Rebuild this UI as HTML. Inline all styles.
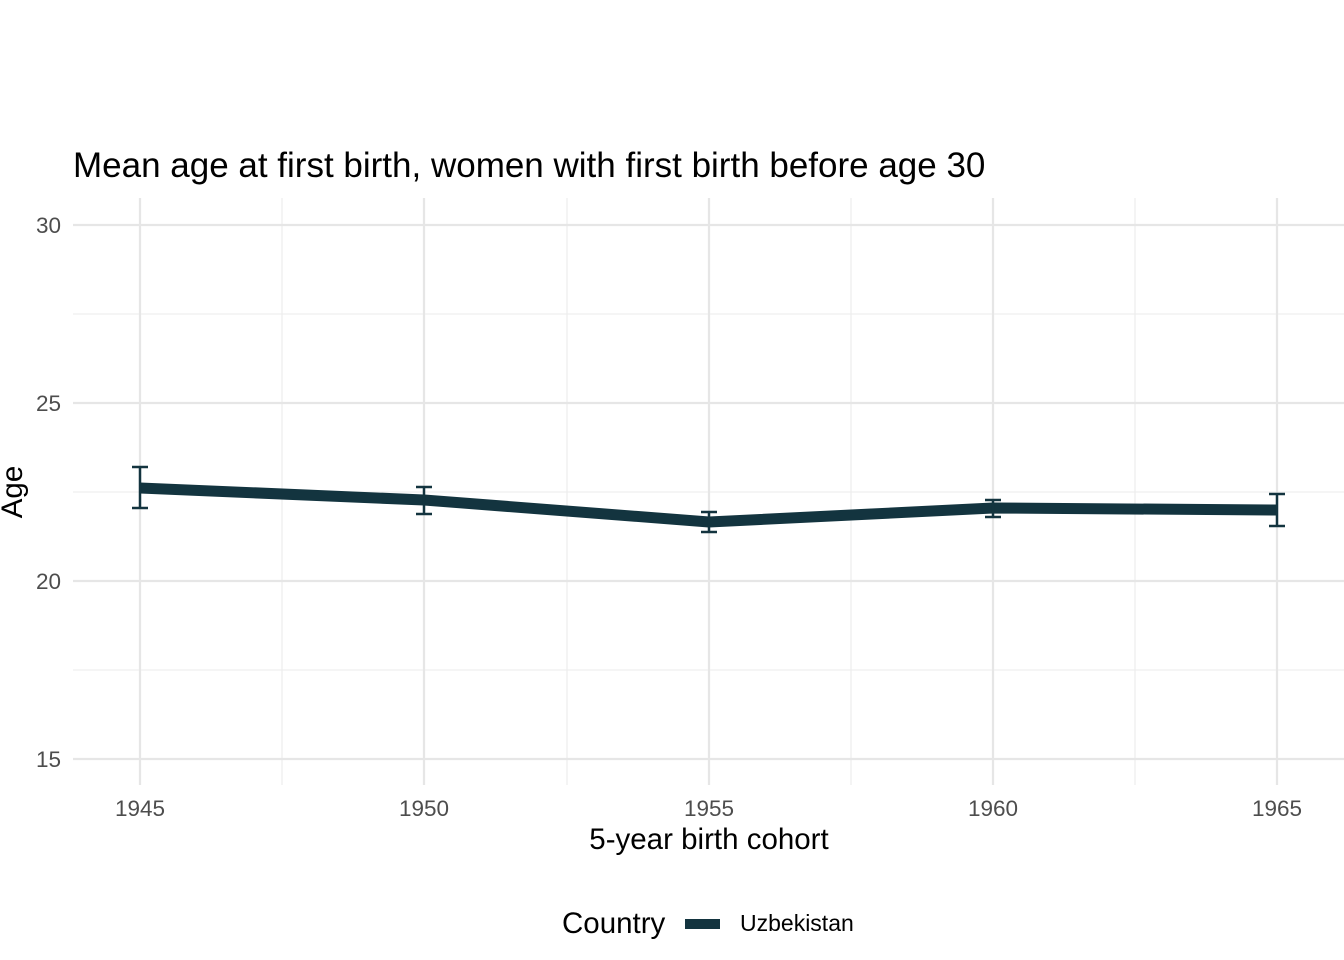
<!DOCTYPE html>
<html><head><meta charset="utf-8"><style>
html,body{margin:0;padding:0;background:#fff;}
svg{display:block;font-family:"Liberation Sans",Arial,sans-serif;}
</style></head><body>
<svg width="1344" height="960" viewBox="0 0 1344 960">
<rect width="1344" height="960" fill="#fff"/>
<g stroke="#ebebeb" stroke-width="1.1">
<line x1="73" x2="1344" y1="314" y2="314"/>
<line x1="73" x2="1344" y1="492" y2="492"/>
<line x1="73" x2="1344" y1="670" y2="670"/>
<line x1="282" x2="282" y1="198" y2="785"/>
<line x1="567" x2="567" y1="198" y2="785"/>
<line x1="851" x2="851" y1="198" y2="785"/>
<line x1="1135" x2="1135" y1="198" y2="785"/>
</g>
<g stroke="#e6e6e6" stroke-width="2.2">
<line x1="73" x2="1344" y1="225" y2="225"/>
<line x1="73" x2="1344" y1="403" y2="403"/>
<line x1="73" x2="1344" y1="581" y2="581"/>
<line x1="73" x2="1344" y1="759" y2="759"/>
<line x1="140" x2="140" y1="198" y2="785"/>
<line x1="424" x2="424" y1="198" y2="785"/>
<line x1="709" x2="709" y1="198" y2="785"/>
<line x1="993" x2="993" y1="198" y2="785"/>
<line x1="1277" x2="1277" y1="198" y2="785"/>
</g>
<polyline points="140,488 424,500 709,522 993,508 1277,510" fill="none" stroke="#13343f" stroke-width="11" stroke-linejoin="round"/>
<g stroke="#13343f" stroke-width="2.5" fill="none">
<path d="M132 467H148M140 467V508M132 508H148"/>
<path d="M416 487H432M424 487V514M416 514H432"/>
<path d="M701 512H717M709 512V532M701 532H717"/>
<path d="M985 500H1001M993 500V517M985 517H1001"/>
<path d="M1269 494H1285M1277 494V526M1269 526H1285"/>
</g>
<g fill="#4d4d4d" font-size="22.5" text-anchor="end">
<text x="61" y="233">30</text>
<text x="61" y="411">25</text>
<text x="61" y="589">20</text>
<text x="61" y="767">15</text>
</g>
<g fill="#4d4d4d" font-size="22.5" text-anchor="middle">
<text x="140" y="816">1945</text>
<text x="424" y="816">1950</text>
<text x="709" y="816">1955</text>
<text x="993" y="816">1960</text>
<text x="1277" y="816">1965</text>
</g>
<text x="73" y="177" font-size="35" fill="#000">Mean age at first birth, women with first birth before age 30</text>
<text x="709" y="849" font-size="29.5" fill="#000" text-anchor="middle">5-year birth cohort</text>
<text transform="translate(22,492) rotate(-90)" font-size="29.5" fill="#000" text-anchor="middle">Age</text>
<text x="562" y="933" font-size="29.5" fill="#000">Country</text>
<rect x="685" y="919" width="35" height="10" fill="#13343f"/>
<text x="740" y="931" font-size="23" fill="#000">Uzbekistan</text>
</svg>
</body></html>
